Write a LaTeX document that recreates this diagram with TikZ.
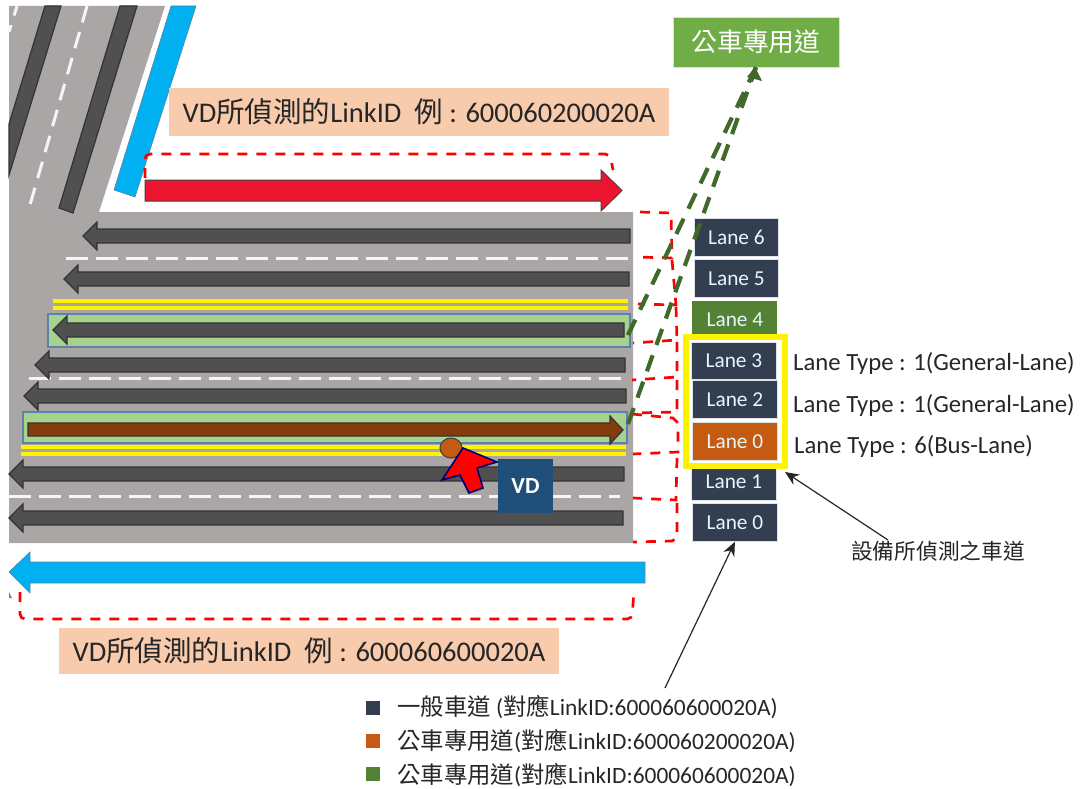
\documentclass[tikz,border=0pt]{standalone}
\usepackage{fontspec}
\setmainfont{Carlito}
\newfontfamily\cjkfont{Noto Sans CJK TC}
\usetikzlibrary{arrows.meta,shapes.geometric}
\newcommand{\cj}[1]{{\cjkfont #1}}
\definecolor{roadgray}{HTML}{AAA6A5}
\definecolor{lanedark}{HTML}{505050}
\definecolor{navy}{HTML}{333F50}
\definecolor{busorange}{HTML}{C55A11}
\definecolor{busgreen}{HTML}{548235}
\definecolor{topgreen}{HTML}{70AD47}
\definecolor{peach}{HTML}{F8CBAD}
\definecolor{skyblue}{HTML}{00B0F0}
\definecolor{crimson}{HTML}{EC1530}
\definecolor{brownarrow}{HTML}{843C0C}
\definecolor{lanegreen}{HTML}{A9D18E}
\definecolor{edgeblue}{HTML}{5B82A8}
\definecolor{dashgreen}{HTML}{3F6A2A}
\definecolor{vdblue}{HTML}{1F4E79}
\tikzset{
  x=1pt,y=-1pt,
  lanebox/.style={rectangle,draw=white!85!navy,line width=0.8pt,text=white!90!cyan,font=\fontsize{21.3}{22}\selectfont,inner sep=0pt,anchor=north west},
  lanearrow/.style={fill=lanedark,draw=black!80,line width=1.2pt,line join=miter},
  whitedash/.style={draw=white!92!gray,line width=3pt,dash pattern=on 22pt off 8pt},
  yellowline/.style={draw=yellow,line width=3.4pt},
  reddash/.style={draw=red,line width=2.7pt,dash pattern=on 10pt off 9pt},
  greendash/.style={draw=dashgreen,line width=4.2pt,dash pattern=on 17pt off 11pt},
  greenbox/.style={fill=lanegreen,draw=edgeblue,line width=1.2pt},
  peachlabel/.style={fill=peach,inner sep=0pt,font=\fontsize{28.5}{30}\selectfont,text=black!85},
  typelabel/.style={font=\fontsize{24.7}{26}\selectfont,text=black!85,anchor=west,inner sep=0pt},
  legendtext/.style={font=\fontsize{23.4}{25}\selectfont,text=black!85,anchor=west,inner sep=0pt},
  pointer/.style={draw=black!85,line width=1.2pt,-{Stealth[length=14pt,width=12pt]}},
}
\newcommand{\larrow}[3]{% tip x, y, tail x
  \path[lanearrow] (#1,#2) -- (#1+14,#2-14) -- (#1+14,#2-7) -- (#3,#2-7) -- (#3,#2+7) -- (#1+14,#2+7) -- (#1+14,#2+14) -- cycle;}
\begin{document}
\begin{tikzpicture}
\useasboundingbox (0,0) rectangle (1081,789);
% road
\fill[roadgray] (9,6) -- (165,6) -- (99,212) -- (633,212) -- (633,543) -- (9,543) -- cycle;
% diagonal road strips
\fill[skyblue,draw=edgeblue,line width=.6pt] (171,6) -- (196,6) -- (135,197) -- (114,190) -- cycle;
\path[lanearrow] (45,6) -- (61,6) -- (9,175) -- (9,124) -- cycle;
\path[lanearrow] (120,6) -- (137,6) -- (73,213) -- (59,208) -- cycle;
\draw[whitedash,dash pattern=on 17pt off 10pt] (87,6) -- (30,205);
\draw[whitedash,dash pattern=on 10pt off 10pt] (17,6) -- (9,32);
% lane markings
\draw[whitedash] (66,258) -- (630,258);
\draw[whitedash] (29,378) -- (625,378);
\draw[whitedash] (9,496) -- (620,496);
\draw[yellowline] (53,301) -- (628,301);
\draw[yellowline] (53,308) -- (628,308);
\draw[yellowline] (21,447) -- (626,447);
\draw[yellowline] (21,454) -- (626,454);
\path[greenbox] (48,314) rectangle (630,347);
\path[greenbox] (23,412) rectangle (627,443);
% lane arrows
\larrow{83}{236}{630}
\larrow{64}{279}{629}
\larrow{53}{330}{624}
\larrow{35}{365}{625}
\larrow{24}{396}{626}
\larrow{9}{474}{624}
\larrow{9}{518}{623}
\path[lanearrow,fill=brownarrow] (623,430) -- (610,416) -- (610,423) -- (28,423) -- (28,436) -- (610,436) -- (610,444) -- cycle;
% big arrows
\path[fill=crimson,draw=black!75,line width=1pt] (622,190.5) -- (601,170) -- (601,180) -- (145,180) -- (145,201) -- (601,201) -- (601,211) -- cycle;
\path[fill=skyblue,draw=edgeblue,line width=.6pt] (9,572) -- (30,552) -- (30,562) -- (645,562) -- (645,583) -- (30,583) -- (30,593) -- cycle;
\fill[edgeblue] (9,592) -- (12,598) -- (9,598) -- cycle;
% red dashed regions
\draw[reddash,rounded corners=5pt] (145,178) -- (145,154) -- (610,154) -- (613,170);
\draw[reddash,rounded corners=5pt] (20,592) -- (20,619) -- (632,619) -- (634,590);
\draw[reddash] (640,212) -- (671,213) -- (672,258) -- (636,257);
\draw[reddash] (672,260) -- (676,305) -- (638,304);
\draw[reddash] (676,307) -- (677,340) -- (633,343);
\draw[reddash] (677,342) -- (677,377) -- (632,380);
\draw[reddash] (677,380) -- (677,412) -- (632,413);
\draw[reddash] (632,414) -- (673,418) -- (678,423) -- (678,452) -- (633,454);
\draw[reddash] (677,458) -- (676,500) -- (633,498);
\draw[reddash] (677,503) -- (677,538) -- (672,541) -- (633,542);
% lane stack
\node[lanebox,fill=navy,minimum width=84pt,minimum height=38pt] (l6) at (694,218) {Lane 6\hspace{5pt}};
\node[lanebox,fill=navy,minimum width=84pt,minimum height=38pt] (l5) at (694,259) {Lane 5\hspace{5pt}};
\node[lanebox,fill=busgreen,minimum width=85pt,minimum height=37pt,draw=none] (l4) at (692,301) {Lane 4\hspace{14pt}};
\node[lanebox,fill=navy,minimum width=85pt,minimum height=37pt] (l3) at (691,342) {Lane 3\hspace{5pt}};
\node[lanebox,fill=navy,minimum width=85pt,minimum height=38pt] (l2) at (692,380) {Lane 2\hspace{5pt}};
\node[lanebox,fill=busorange,minimum width=85pt,minimum height=38pt] (l0b) at (692,422) {Lane 0\hspace{5pt}};
\node[lanebox,fill=navy,minimum width=85pt,minimum height=37pt] (l1) at (691,463) {Lane 1\hspace{5pt}};
\node[lanebox,fill=navy,minimum width=85pt,minimum height=38pt] (l0) at (692,503) {Lane 0\hspace{5pt}};
\node[draw=yellow,line width=6pt,minimum width=99pt,minimum height=129pt,inner sep=0pt,outer sep=0pt,anchor=north west] (det) at (686,337) {};
% top label
\node[fill=topgreen,draw=white!70!topgreen,line width=.6pt,text=white,minimum width=166pt,minimum height=50pt,inner sep=0pt,font=\fontsize{25.8}{27}\selectfont] (bus) at (756,42) {\cj{公車專用道}\hspace{3pt}};
% green dashed lines
\coordinate (gs1) at (628,335);
\coordinate (gs2) at (628,424);
\draw[greendash] (gs1) -- (bus.south);
\draw[greendash] (gs2) -- (bus.south);
\fill[dashgreen] (755,67) -- (762,81) -- (747,77) -- cycle;
% peach labels
\node[peachlabel,minimum width=500pt,minimum height=48pt] (lk1) at (419,112) {VD\cj{所偵測的}LinkID\ \ \cj{例} : 600060200020A};
\node[peachlabel,minimum width=500pt,minimum height=46pt] (lk2) at (309,651) {VD\cj{所偵測的}LinkID\ \ \cj{例} : 600060600020A};
% VD marker
\node[ellipse,fill=busorange,draw=navy,line width=1pt,minimum width=22pt,minimum height=20pt,inner sep=0pt] (person) at (451,448) {};
\path[fill=red,draw=blue!45!black,line width=1.6pt,line join=miter] (463,448) -- (497,462) -- (477,468) -- (483,488) -- (469,493) -- (460,475) -- (442,480) -- cycle;
\node[fill=vdblue,text=white,minimum width=55pt,minimum height=54pt,inner sep=0pt,font=\bfseries\fontsize{23}{25}\selectfont] (vd) at (525.5,486) {VD};
% lane type labels
\node[typelabel] (t3) at (793,363) {Lane Type : 1(General-Lane)};
\node[typelabel] (t2) at (793,405) {Lane Type : 1(General-Lane)};
\node[typelabel] (t0) at (794,446) {Lane Type : 6(Bus-Lane)};
% detection label
\node[inner sep=0pt,text=black!85,font=\fontsize{21.7}{23}\selectfont] (detlabel) at (938,551) {\cj{設備所偵測之車道}};
\coordinate (detfrom) at (888,540);
\draw[pointer] (detfrom) -- ([shift={(0,6)}]det.south east);
\coordinate (legfrom) at (665,688);
\draw[pointer] (legfrom) -- (l0.south);
% legend
\node[fill=navy,minimum size=14pt,inner sep=0pt] (k1) at (373,708) {};
\node[fill=busorange,minimum size=14pt,inner sep=0pt] (k2) at (373,741) {};
\node[fill=busgreen,minimum size=14pt,inner sep=0pt] (k3) at (373,774) {};
\node[legendtext] (e1) at (397,707) {\cj{一般車道} (\cj{對應}LinkID:600060600020A)};
\node[legendtext] (e2) at (397,741) {\cj{公車專用道}(\cj{對應}LinkID:600060200020A)};
\node[legendtext] (e3) at (397,775) {\cj{公車專用道}(\cj{對應}LinkID:600060600020A)};
\end{tikzpicture}
\end{document}
